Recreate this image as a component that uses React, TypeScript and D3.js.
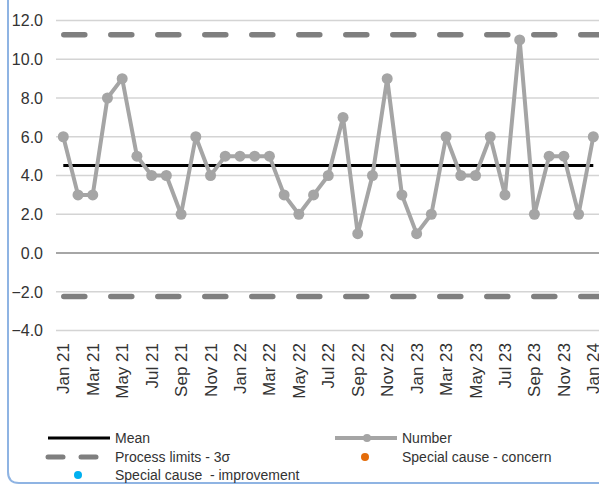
import React from "react";
import * as d3 from "d3";

// Monthly counts, Jan 21 – Jan 24
const months = [
  "Jan 21", "Feb 21", "Mar 21", "Apr 21", "May 21", "Jun 21", "Jul 21", "Aug 21", "Sep 21", "Oct 21", "Nov 21", "Dec 21",
  "Jan 22", "Feb 22", "Mar 22", "Apr 22", "May 22", "Jun 22", "Jul 22", "Aug 22", "Sep 22", "Oct 22", "Nov 22", "Dec 22",
  "Jan 23", "Feb 23", "Mar 23", "Apr 23", "May 23", "Jun 23", "Jul 23", "Aug 23", "Sep 23", "Oct 23", "Nov 23", "Dec 23",
  "Jan 24",
];
const numbers = [
  6, 3, 3, 8, 9, 5, 4, 4, 2, 6, 4, 5,
  5, 5, 5, 3, 2, 3, 4, 7, 1, 4, 9, 3,
  1, 2, 6, 4, 4, 6, 3, 11, 2, 5, 5, 2,
  6,
];
const meanValue = d3.mean(numbers) as number;
const upperLimit = 11.27;
const lowerLimit = -2.25;
const yTicks = [-4, -2, 0, 2, 4, 6, 8, 10, 12];

const W = 599;
const H = 487;
const FONT = "'Liberation Sans', Arial, sans-serif";

export default function App() {
  const x = d3.scaleLinear().domain([0, numbers.length - 1]).range([63.3, 593.3]);
  const y = d3.scaleLinear().domain([-4, 12]).range([330.5, 20.5]);

  const line = d3
    .line<number>()
    .x((_, i) => x(i))
    .y((d) => y(d));

  const gridX0 = 56;
  const limitDash = "21 26";

  return (
    <svg
      width={W}
      height={H}
      style={{ position: "absolute", left: 0, top: 0, background: "#fff" }}
      fontFamily={FONT}
    >
      {/* frame */}
      <path
        d={`M8,0 L8,472 Q8,483 19,483 L${W + 5},483`}
        fill="none"
        stroke="#8fb4e3"
        strokeWidth={2}
      />

      {/* gridlines */}
      {yTicks.map((t) => (
        <line
          key={`g${t}`}
          x1={gridX0}
          x2={W}
          y1={y(t)}
          y2={y(t)}
          stroke={t === 0 ? "#a6a6a6" : "#d4d4d4"}
          strokeWidth={t === 0 ? 2 : 1.6}
        />
      ))}

      {/* y tick labels */}
      {yTicks.map((t) => (
        <text
          key={`t${t}`}
          x={43}
          y={y(t)}
          dy="0.36em"
          textAnchor="end"
          fontSize={16}
          fill="#333"
        >
          {d3.format(".1f")(t)}
        </text>
      ))}

      {/* process limits */}
      {[upperLimit, lowerLimit].map((v) => (
        <line
          key={`l${v}`}
          x1={63.8}
          x2={W + 30}
          y1={y(v)}
          y2={y(v)}
          stroke="#7f7f7f"
          strokeWidth={5.5}
          strokeLinecap="round"
          strokeDasharray={limitDash}
        />
      ))}

      {/* mean */}
      <line
        x1={x(0)}
        x2={x(numbers.length - 1)}
        y1={y(meanValue)}
        y2={y(meanValue)}
        stroke="#000"
        strokeWidth={3}
      />

      {/* number series */}
      <path d={line(numbers) ?? ""} fill="none" stroke="#a5a5a5" strokeWidth={4} strokeLinejoin="round" />
      {numbers.map((d, i) => (
        <circle key={`p${i}`} cx={x(i)} cy={y(d)} r={5.5} fill="#a5a5a5" />
      ))}

      {/* x labels, every second month */}
      {months.map((m, i) =>
        i % 2 === 0 ? (
          <text
            key={`x${i}`}
            transform={`translate(${x(i) + 6},343) rotate(-90)`}
            textAnchor="end"
            fontSize={17}
            fill="#333"
          >
            {m}
          </text>
        ) : null
      )}

      {/* legend */}
      <g fontSize={14} fill="#333">
        <line x1={48} x2={110} y1={438} y2={438} stroke="#000" strokeWidth={3} />
        <text x={115} y={438} dy="0.35em">Mean</text>

        <line x1={48} x2={63} y1={457} y2={457} stroke="#7f7f7f" strokeWidth={5} strokeLinecap="round" />
        <line x1={81} x2={96} y1={457} y2={457} stroke="#7f7f7f" strokeWidth={5} strokeLinecap="round" />
        <text x={115} y={457} dy="0.35em">Process limits - 3σ</text>

        <circle cx={78} cy={475} r={4} fill="#00b0f0" />
        <text x={115} y={475} dy="0.35em" style={{ whiteSpace: "pre" }}>{"Special cause  - improvement"}</text>

        <line x1={335} x2={397} y1={438} y2={438} stroke="#a5a5a5" strokeWidth={4} />
        <circle cx={367} cy={438} r={4} fill="#a5a5a5" />
        <text x={402} y={438} dy="0.35em">Number</text>

        <circle cx={365} cy={457} r={4} fill="#e46c0a" />
        <text x={402} y={457} dy="0.35em">Special cause - concern</text>
      </g>
    </svg>
  );
}
